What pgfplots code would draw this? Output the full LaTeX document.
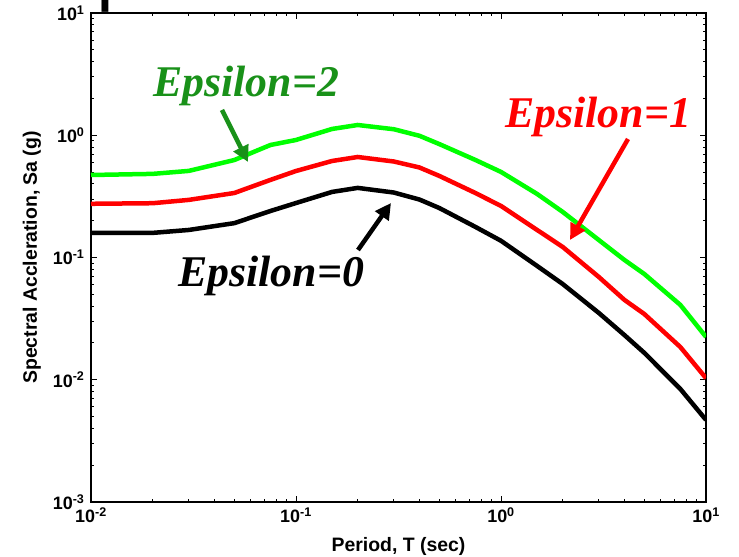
\documentclass[border=0pt]{standalone}
\usepackage{fontspec}
\setmainfont{Liberation Sans}
\newfontfamily\epsfont{Liberation Serif}
\newfontfamily\titlefont{Carlito}
\usepackage{pgfplots}
\pgfplotsset{compat=1.18}
\usepackage{pgfplotstable}
\usetikzlibrary{arrows.meta}

\definecolor{brightgreen}{RGB}{0,255,0}
\definecolor{darkgreen}{RGB}{25,145,25}

\pgfplotstableread{
T Sa
0.01 0.159
0.02 0.159
0.03 0.168
0.05 0.191
0.075 0.240
0.1 0.279
0.15 0.344
0.2 0.371
0.3 0.340
0.4 0.298
0.5 0.254
0.75 0.178
1 0.137
1.5 0.0853
2 0.0607
3 0.0352
4 0.0232
5 0.0166
7.5 0.0084
10 0.00469
}\epszero

\pgfplotstableread{
T Sa
0.01 0.275
0.02 0.278
0.03 0.296
0.05 0.337
0.075 0.431
0.1 0.510
0.15 0.616
0.2 0.664
0.3 0.610
0.4 0.545
0.5 0.465
0.75 0.337
1 0.264
1.5 0.168
2 0.122
3 0.0693
4 0.0450
5 0.0345
7.5 0.0185
10 0.0103
}\epsone

\pgfplotstableread{
T Sa
0.01 0.473
0.02 0.483
0.03 0.511
0.05 0.627
0.075 0.832
0.1 0.915
0.15 1.126
0.2 1.213
0.3 1.12
0.4 0.99
0.5 0.847
0.75 0.628
1 0.501
1.5 0.331
2 0.236
3 0.139
4 0.0955
5 0.0733
7.5 0.0409
10 0.0224
}\epstwo

\newcommand{\tl}[1]{\textbf{10}\textsuperscript{\textbf{#1}}}

\begin{document}
\begin{tikzpicture}[x=1bp,y=1bp]
\useasboundingbox (0,0) rectangle (739,557);
\begin{scope}
\clip (0,0) rectangle (739,557);
\node[anchor=base west, inner sep=0, font=\titlefont\fontsize{80}{80}\selectfont] at (60,557.5) {Spectrum};
\end{scope}
\begin{axis}[
  at={(91bp,55bp)}, anchor=south west,
  width=615bp, height=489bp, scale only axis,
  xmode=log, ymode=log,
  xmin=0.01, xmax=10, ymin=0.001, ymax=10,
  axis line style={line width=1.6bp},
  tick align=inside,
  major tick length=6bp, minor tick length=3.5bp,
  every tick/.style={line width=0.9bp, black},
  xtick={0.01,0.1,1,10},
  xticklabels={\tl{-2},\tl{-1},\tl{0},\tl{1}},
  ytick={0.001,0.01,0.1,1,10},
  yticklabels={\tl{-3},\tl{-2},\tl{-1},\tl{0},\tl{1}},
  ticklabel style={font=\fontsize{18}{18}\selectfont},
  xticklabel style={yshift=-2bp},
  yticklabel style={xshift=-3bp},
  xlabel={\textbf{Period, T (sec)}},
  ylabel={\textbf{Spectral Accleration, Sa (g)}},
  label style={font=\fontsize{19.5}{19.5}\selectfont},
  xlabel style={yshift=-8bp},
  ylabel style={yshift=5bp},
]
\addplot[black, line width=4.5bp] table[x=T,y=Sa] {\epszero};
\addplot[red, line width=4.5bp] table[x=T,y=Sa] {\epsone};
\addplot[brightgreen, line width=4.5bp] table[x=T,y=Sa] {\epstwo};
\end{axis}

\begin{scope}[font=\epsfont\bfseries\itshape\fontsize{44}{44}\selectfont]
\node[anchor=base west, inner sep=0, text=darkgreen] at (153,460) {Epsilon=2};
\node[anchor=base west, inner sep=0, text=red] at (505,429) {Epsilon=1};
\node[anchor=base west, inner sep=0, text=black] at (178,270) {Epsilon=0};
\end{scope}

\draw[darkgreen, line width=4.5bp, -{Triangle[length=16bp,width=16bp]}] (222,447) -- (248,395);
\draw[red, line width=4.5bp, -{Triangle[length=16bp,width=16bp]}] (628,418) -- (570,317);
\draw[black, line width=4.5bp, -{Triangle[length=16bp,width=16bp]}] (358,307) -- (391,354);
\end{tikzpicture}
\end{document}
